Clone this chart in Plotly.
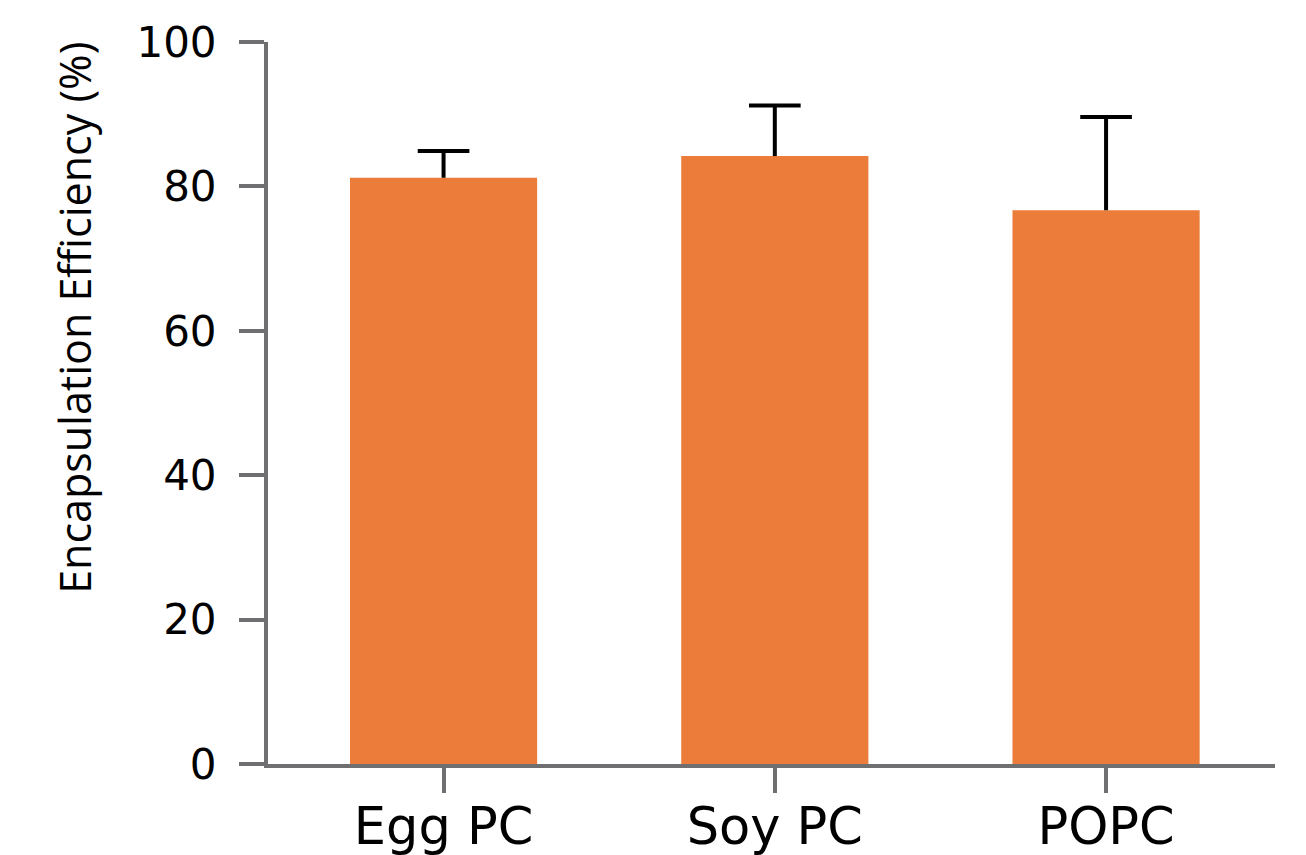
import plotly.graph_objects as go

# Encapsulation efficiency by lipid type (mean with upper SD)
lipids = ["Egg PC", "Soy PC", "POPC"]
efficiency = [81.2, 84.2, 76.7]
sd_upper = [3.7, 7.0, 12.9]

bar_color = "#EB7C3A"
axis_color = "#6F6F72"
tick_font = "DejaVu Sans"
positions = list(range(len(lipids)))
cap_half = 0.078

fig = go.Figure()
fig.add_trace(
    go.Bar(
        x=positions,
        y=efficiency,
        width=0.565,
        marker=dict(color=bar_color, line=dict(width=0)),
        hoverinfo="skip",
    )
)

# one-sided error bars: stem from bar top to mean+SD, with a cap
err_x, err_y = [], []
for xi, m, s in zip(positions, efficiency, sd_upper):
    err_x += [xi, xi, None, xi - cap_half, xi + cap_half, None]
    err_y += [m, m + s, None, m + s, m + s, None]
fig.add_trace(
    go.Scatter(
        x=err_x,
        y=err_y,
        mode="lines",
        line=dict(color="black", width=4),
        hoverinfo="skip",
    )
)

fig.update_layout(
    width=1306,
    height=855,
    margin=dict(l=268, r=31, t=42, b=91),
    paper_bgcolor="white",
    plot_bgcolor="white",
    showlegend=False,
    annotations=[
        dict(
            text="Encapsulation Efficiency (%)",
            textangle=-90,
            xref="paper",
            yref="paper",
            x=0,
            y=0.618,
            xanchor="center",
            yanchor="middle",
            xshift=-193,
            showarrow=False,
            font=dict(family="Open Sans", size=43, color="black"),
        )
    ],
)

fig.update_xaxes(
    range=[-0.53, 2.51],
    tickmode="array",
    tickvals=positions,
    ticktext=lipids,
    showline=True,
    linecolor=axis_color,
    linewidth=4,
    ticks="outside",
    ticklen=25,
    tickwidth=4,
    tickcolor=axis_color,
    ticklabelstandoff=-10,
    tickfont=dict(family=tick_font, size=51, color="black"),
    showgrid=False,
    zeroline=False,
    automargin=False,
)

fig.update_yaxes(
    range=[0, 100],
    tickvals=[0, 20, 40, 60, 80, 100],
    showline=True,
    linecolor=axis_color,
    linewidth=4,
    ticks="outside",
    ticklen=25,
    tickwidth=4,
    tickcolor=axis_color,
    ticklabelstandoff=14,
    tickfont=dict(family=tick_font, size=42, color="black"),
    showgrid=False,
    zeroline=False,
    automargin=False,
)

fig.write_html("out.html")
